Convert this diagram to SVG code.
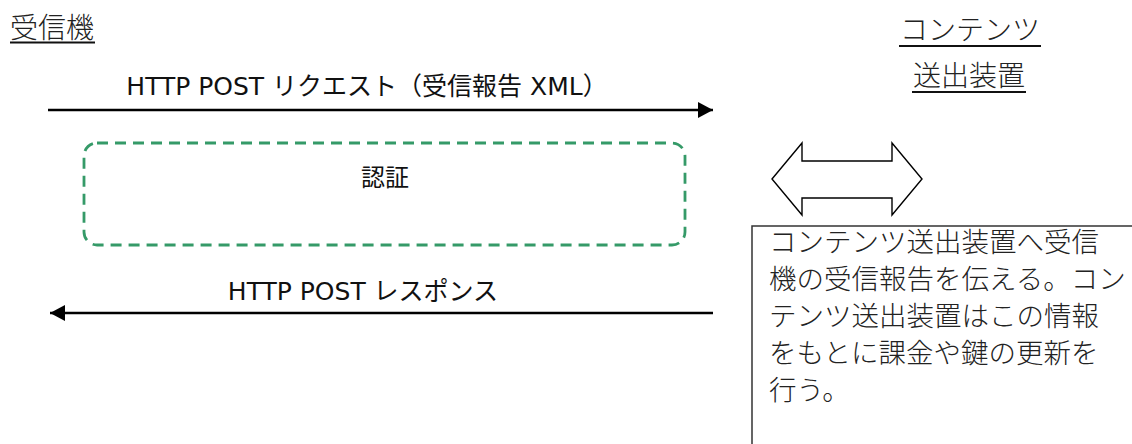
<svg xmlns="http://www.w3.org/2000/svg" width="1132" height="444" viewBox="0 0 1132 444">
<style>
.mincho{font-family:"Liberation Serif","Noto Sans CJK JP",serif;font-size:28px;font-weight:300;fill:#222}
.sans{font-family:"DejaVu Sans","Noto Sans CJK JP",sans-serif;font-size:25px;fill:#111}
.ul{stroke:#111;stroke-width:2}
.conn{stroke:#000;stroke-width:2.6;fill:none}
</style>
<defs>
<marker id="ah" viewBox="0 0 15 16" refX="15" refY="8" markerWidth="15" markerHeight="16" markerUnits="userSpaceOnUse" orient="auto">
<path d="M0,0 L15,8 L0,16 Z" fill="#000"/>
</marker>
</defs>
<rect width="1132" height="444" fill="#fff"/>
<g id="receiver">
<text class="mincho" x="10" y="38">受信機</text>
<line class="ul" x1="10" y1="42.5" x2="95" y2="42.5"/>
</g>
<g id="sender">
<text class="mincho" x="970" y="40" text-anchor="middle">コンテンツ</text>
<line class="ul" x1="899" y1="46" x2="1041" y2="46"/>
<text class="mincho" x="969" y="86" text-anchor="middle">送出装置</text>
<line class="ul" x1="912" y1="92" x2="1026" y2="92"/>
</g>
<g id="auth">
<rect x="84" y="143" width="601" height="102" rx="13" fill="none" stroke="#359a68" stroke-width="2.8" stroke-dasharray="11,7"/>
<text class="sans" x="385" y="186" text-anchor="middle" style="font-size:24px">認証</text>
</g>
<g id="note">
<rect x="752" y="226" width="400" height="240" fill="#fff" stroke="#333" stroke-width="1.5"/>
<text class="mincho" style="font-size:27.5px">
<tspan x="769" y="252">コンテンツ送出装置へ受信</tspan>
<tspan x="769" y="289">機の受信報告を伝える。コン</tspan>
<tspan x="769" y="326">テンツ送出装置はこの情報</tspan>
<tspan x="769" y="363">をもとに課金や鍵の更新を</tspan>
<tspan x="769" y="400">行う。</tspan>
</text>
</g>
<g id="exchange">
<polygon points="772,179 802,143 802,161 892,161 892,143 922,179 892,215 892,198 802,198 802,215" fill="#fff" stroke="#000" stroke-width="1.4" stroke-linejoin="miter"/>
</g>
<g id="connectors">
<line class="conn" x1="48" y1="110" x2="713" y2="110" marker-end="url(#ah)"/>
<text class="sans" x="367" y="95" text-anchor="middle">HTTP POST リクエスト（受信報告 XML）</text>
<line class="conn" x1="713" y1="313" x2="50" y2="313" marker-end="url(#ah)"/>
<text class="sans" x="363" y="300" text-anchor="middle">HTTP POST レスポンス</text>
</g>
</svg>
